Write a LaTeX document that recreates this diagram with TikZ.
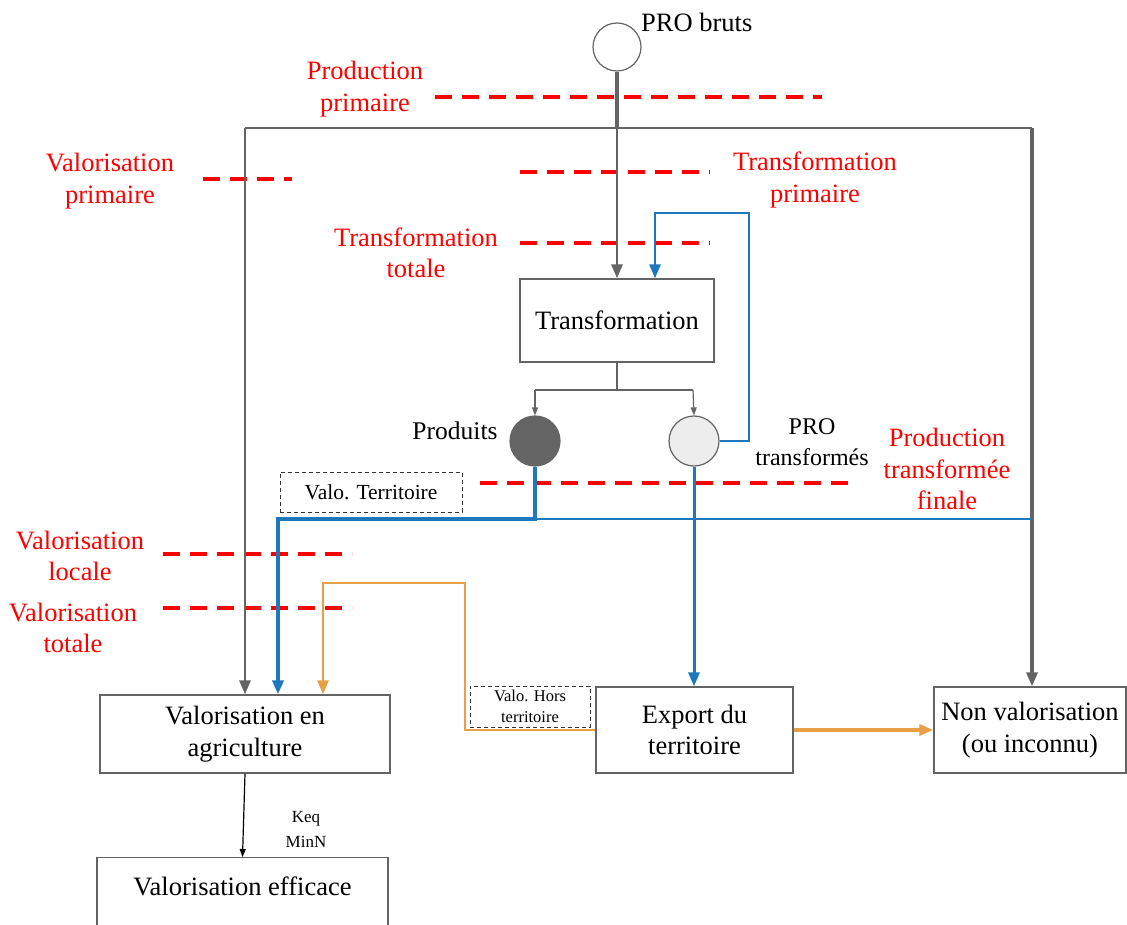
\documentclass[tikz,border=0pt]{standalone}
\usepackage{fontspec}
\setmainfont{Liberation Serif}
\usetikzlibrary{arrows.meta}
\definecolor{pgray}{RGB}{100,100,100}
\definecolor{pblue}{RGB}{30,120,190}
\definecolor{porange}{RGB}{232,160,72}
\definecolor{pred}{RGB}{255,0,0}
\begin{document}
\begin{tikzpicture}[x=1pt,y=-1pt,
  big/.style={font=\fontsize{26.5}{31.5}\selectfont, align=center, inner sep=0pt},
  redlab/.style={big, text=pred},
  box/.style={draw=pgray, line width=1.3pt, fill=white, big, inner sep=0pt},
  dbox/.style={draw=black!80, line width=1pt, dash pattern=on 4pt off 3pt, align=center, inner sep=0pt},
  reddash/.style={draw=pred, line width=3.5pt, dash pattern=on 17pt off 10pt},
  tip/.style={-{Triangle[length=14pt,width=11pt]}},
  smalltip/.style={-{Triangle[length=8pt,width=6pt]}},
  gline/.style={draw=pgray, line width=2.8pt},
  bline/.style={draw=pblue, line width=2.8pt},
  oline/.style={draw=porange, line width=2.5pt},
]
\clip (0,0) rectangle (1127,925);
\fill[white] (0,0) rectangle (1127,925);

% ---------- red dashed levels ----------
\draw[reddash] (435,97) -- (822,97);
\draw[reddash] (203,179) -- (292,179);
\draw[reddash] (520,172) -- (710,172);
\draw[reddash] (520,243) -- (710,243);
\draw[reddash] (480,483) -- (857,483);
\draw[reddash] (163,554) -- (352,554);
\draw[reddash] (163,608) -- (352,608);

\node[redlab] (lprodprim) at (365,89) {Production\\primaire};
\node[redlab] (lvalprim) at (110,181) {Valorisation\\primaire};
\node[redlab] (ltrprim) at (815,180) {Transformation\\primaire};
\node[redlab] (ltrtot) at (416,253) {Transformation\\totale};
\node[redlab] (lprodfin) at (947,469) {Production\\transformée\\finale};
\node[redlab] (lvalloc) at (80,556) {Valorisation\\locale};
\node[redlab] (lvaltot) at (73,628) {Valorisation\\totale};

% ---------- nodes ----------
\node[circle, draw=pgray, line width=1.2pt, fill=white, minimum size=48pt, inner sep=0pt] (bruts) at (617,47) {};
\node[big, anchor=west] (lbruts) at (641,22) {PRO bruts};

\node[box, minimum width=194pt, minimum height=83pt] (transf) at (617,320.5) {Transformation};

\node[circle, draw=pgray, line width=1.2pt, fill=pgray, minimum size=50pt, inner sep=0pt] (prod) at (535,441) {};
\node[big, font=\fontsize{25.5}{30}\selectfont] (lprod) at (455,431) {Produits};
\node[circle, draw=pgray, line width=1.2pt, fill=black!7, minimum size=50pt, inner sep=0pt] (protr) at (694,441) {};
\node[big, font=\fontsize{24}{31}\selectfont] (lprotr) at (812,442) {PRO\\transformés};

\node[box, minimum width=290pt, minimum height=78pt] (agri) at (245,734) {Valorisation en\\agriculture};
\node[box, minimum width=197pt, minimum height=86pt] (export) at (694.5,730) {Export du\\territoire};
\node[box, minimum width=192pt, minimum height=86pt] (nonval) at (1030,730) {Non valorisation\\(ou inconnu)};
\node[box, minimum width=291pt, minimum height=110pt, anchor=north] (effic) at (242.5,857) {};
\node[big] (leffic) at (242.5,886) {Valorisation efficace};

\node[dbox, minimum width=182pt, minimum height=40pt, font=\fontsize{21.5}{25}\selectfont] (vterr) at (371,492) {Valo. Territoire};
\node[dbox, minimum width=120pt, minimum height=41pt, font=\fontsize{16.5}{21}\selectfont] (vhors) at (530,706.5) {Valo. Hors\\territoire};

\node[align=center, inner sep=0pt, font=\fontsize{17}{25}\selectfont] (keq) at (306,829) {Keq\\MinN};

% ---------- helper coordinates ----------
\coordinate (jtop) at (617,128);
\coordinate (gl) at (245,128);
\coordinate (gr) at (1032,128);
\coordinate (split) at (617,390);
\coordinate (sl) at (535,390);
\coordinate (sr) at (693,390);
\coordinate (loopr) at (749,213);
\coordinate (loopl) at (655,213);
\coordinate (bj) at (535,519);
\coordinate (bl) at (278,519);
\coordinate (br) at (1032,519);
\coordinate (o1) at (465,583);
\coordinate (o2) at (323,583);

% ---------- gray connectors ----------
\draw[gline, line width=4pt] (bruts.south) -- (jtop);
\draw[gline, tip] (jtop) -- (transf.north);
\draw[gline] (gl) -- (gr);
\draw[gline, tip] (gl) -- (gl |- agri.north);
\draw[gline, line width=3.2pt, tip] (gr) -- (gr |- nonval.north);

\draw[draw=pgray, line width=1.2pt] (transf.south) -- (split);
\draw[draw=pgray, line width=1.2pt] (sl) -- (sr);
\draw[draw=pgray, line width=1.2pt, smalltip] (sl) -- (prod.north);
\draw[draw=pgray, line width=1.2pt, smalltip] (sr) -- (protr.north);

% ---------- blue connectors ----------
\draw[bline, line width=2.6pt, tip] (protr.east) -| (loopr) -- (loopl) -- (loopl |- transf.north);
\draw[bline, line width=4pt, tip] (prod.south) -- (bj) -- (bl) -- (bl |- agri.north);
\draw[bline, line width=2.2pt] (bj) -- (br);
\draw[bline, line width=3pt, tip] (protr.south) -- (protr.south |- export.north);

% ---------- orange connectors ----------
\draw[oline, tip] (export.west) -| (o1) -- (o2) -- (o2 |- agri.north);
\draw[oline, line width=3.5pt, tip] (export.east) -- (nonval.west);

% ---------- efficiency ----------
\draw[draw=black, line width=1.2pt, smalltip] (agri.south) -- (effic.north);
\end{tikzpicture}
\end{document}
